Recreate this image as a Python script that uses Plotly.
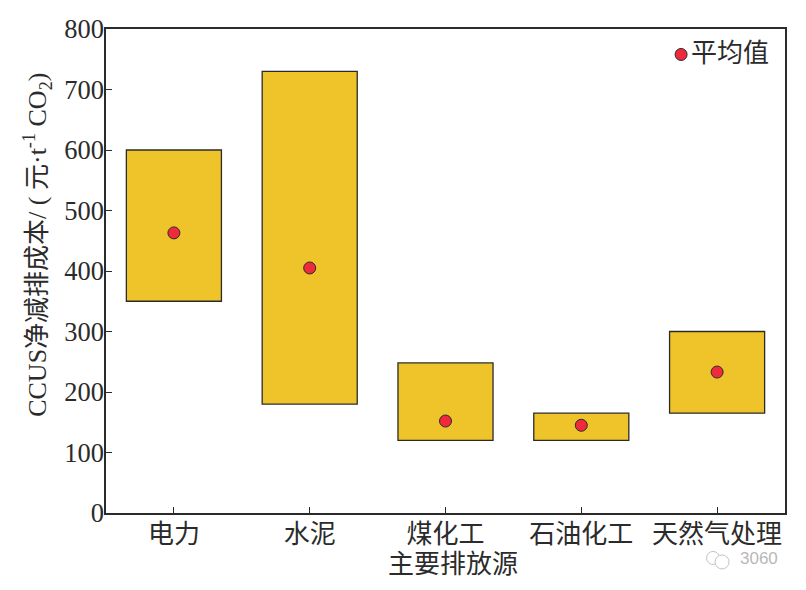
import plotly.graph_objects as go

categories = ["电力", "水泥", "煤化工", "石油化工", "天然气处理"]
low_values = [350, 180, 120, 120, 165]
high_values = [600, 730, 248, 165, 300]
mean_values = [463, 405, 152, 145, 233]
y_ticks = [0, 100, 200, 300, 400, 500, 600, 700, 800]

FONT = "Liberation Serif, Noto Sans CJK SC"
INK = "#2b2b2b"
RED = "#EE2A3C"
WATER = "#c4c4c4"

fig = go.Figure()
fig.add_trace(go.Bar(
    x=categories,
    y=[h - l for h, l in zip(high_values, low_values)],
    base=low_values,
    width=0.7,
    marker=dict(color="#EEC42A", line=dict(color=INK, width=1.3)),
    showlegend=False,
    hoverinfo="skip",
))
fig.add_trace(go.Scatter(
    x=categories,
    y=mean_values,
    mode="markers",
    name="平均值",
    showlegend=False,
    marker=dict(color=RED, size=12, line=dict(color=INK, width=1)),
))


def dot(px, py, d, fill, line, w):
    return dict(
        type="circle", xref="paper", yref="paper",
        xsizemode="pixel", ysizemode="pixel",
        xanchor=(px - 105.5) / 679.5, yanchor=(513 - py) / 484.5,
        x0=-d / 2, x1=d / 2, y0=-d / 2, y1=d / 2,
        fillcolor=fill, line=dict(color=line, width=w),
    )


fig.update_layout(
    width=790,
    height=574,
    margin=dict(l=97.5, r=13, t=20.5, b=69),
    paper_bgcolor="white",
    plot_bgcolor="white",
    font=dict(family=FONT, size=26, color=INK),
    showlegend=False,
    shapes=[
        dot(681, 54, 12, RED, INK, 1),
        dot(713, 558, 13, "rgba(0,0,0,0)", WATER, 1),
        dot(722, 562, 14, "white", WATER, 1),
    ],
    annotations=[
        dict(
            text="平均值", xref="paper", yref="paper",
            x=(771 - 105.5) / 679.5, y=(513 - 53) / 484.5, xanchor="right", yanchor="middle",
            showarrow=False, font=dict(size=26, family=FONT, color=INK),
        ),
        dict(
            text="CCUS净减排成本/ ( 元·t<sup>-1</sup> CO<sub>2</sub>)",
            xref="paper", yref="paper",
            x=(37 - 105.5) / 679.5, y=(513 - 245) / 484.5, xanchor="center", yanchor="middle",
            textangle=-90, showarrow=False,
            font=dict(size=26, family=FONT, color=INK),
        ),
        dict(
            text="主要排放源", xref="paper", yref="paper",
            x=(452.5 - 105.5) / 679.5, y=(513 - 565) / 484.5, xanchor="center", yanchor="middle",
            showarrow=False, font=dict(size=26, family=FONT, color=INK),
        ),
        dict(
            text="3060", xref="paper", yref="paper",
            x=(780 - 105.5) / 679.5, y=(513 - 559) / 484.5, xanchor="right", yanchor="middle",
            showarrow=False, font=dict(size=17, color="#b8b8b8", family="Liberation Sans"),
        ),
    ],
)
fig.update_xaxes(
    range=[-0.5, 4.5],
    automargin=False,
    tickfont=dict(size=26, family=FONT, color=INK),
    ticklabelstandoff=-3,
    ticks="inside", ticklen=6, tickwidth=1.3, tickcolor=INK,
    showline=True, linecolor=INK, linewidth=1.5, mirror=True,
    showgrid=False, zeroline=False,
)
fig.update_yaxes(
    range=[0, 800],
    automargin=False,
    tickvals=y_ticks,
    tickfont=dict(size=26.5, family=FONT, color=INK),
    ticklabelstandoff=-5,
    ticks="inside", ticklen=6, tickwidth=1.3, tickcolor=INK,
    showline=True, linecolor=INK, linewidth=1.5, mirror=True,
    showgrid=False, zeroline=False,
)
fig.write_html("out.html")
